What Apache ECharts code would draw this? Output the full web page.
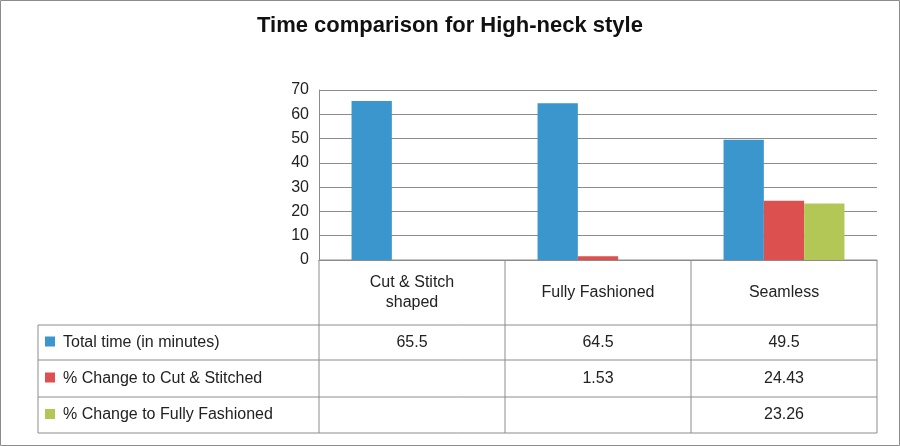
<!DOCTYPE html>
<html><head><meta charset="utf-8">
<script src="https://cdn.jsdelivr.net/npm/echarts@6/dist/echarts.min.js"></script>
<style>html,body{margin:0;padding:0;background:#fff}#c{width:900px;height:446px}</style>
</head><body><div id="c"></div>
<script>
const title = 'Time comparison for High-neck style';
const categories = ['Cut & Stitch\nshaped', 'Fully Fashioned', 'Seamless'];
const seriesNames = ['Total time (in minutes)', '% Change to Cut & Stitched', '% Change to Fully Fashioned'];
const totalTime = [65.5, 64.5, 49.5];
const changeCut = [null, 1.53, 24.43];
const changeFully = [null, null, 23.26];
const colors = ['#3a96cd', '#dc5150', '#b3c757'];
const allSeries = [totalTime, changeCut, changeFully];

const chart = echarts.init(document.getElementById('c'));
const L = 319, R = 877, X0 = 38, colW = (R - L) / 3;
const rowY = [260, 325, 360, 397, 433];
const line = '#8c8c8c';
const g = [];
g.push({type:'rect', shape:{x:0.5,y:0.5,width:899,height:445}, style:{fill:'none',stroke:line,lineWidth:1}});
// horizontal lines
g.push({type:'line', shape:{x1:L,y1:rowY[0],x2:R,y2:rowY[0]}, style:{stroke:line}});
for (let i = 1; i < rowY.length; i++) g.push({type:'line', shape:{x1:X0,y1:rowY[i],x2:R,y2:rowY[i]}, style:{stroke:line}});
g.push({type:'line', shape:{x1:X0,y1:rowY[1],x2:X0,y2:rowY[4]}, style:{stroke:line}});
for (let i = 0; i <= 3; i++) g.push({type:'line', shape:{x1:L+i*colW,y1:rowY[0],x2:L+i*colW,y2:rowY[4]}, style:{stroke:line}});
// header texts
categories.forEach((c, i) => {
  g.push({type:'text', style:{text:c, x:L+(i+0.5)*colW, y:(rowY[0]+rowY[1])/2, align:'center', verticalAlign:'middle', font:'16px Arial, "Liberation Sans"', fill:'#222', lineHeight:20}});
});
// rows
seriesNames.forEach((n, r) => {
  const cy = (rowY[r+1] + rowY[r+2]) / 2;
  g.push({type:'rect', shape:{x:45,y:cy-6,width:10,height:10}, style:{fill:colors[r]}});
  g.push({type:'text', style:{text:n, x:63, y:cy, verticalAlign:'middle', font:'16px Arial, "Liberation Sans"', fill:'#222'}});
  allSeries[r].forEach((v, i) => {
    if (v == null) return;
    g.push({type:'text', style:{text:String(v), x:L+(i+0.5)*colW, y:cy, align:'center', verticalAlign:'middle', font:'16px Arial, "Liberation Sans"', fill:'#222'}});
  });
});

chart.setOption({
  animation:false,
  title:{text:title, left:'center', top:10, textStyle:{fontSize:22, fontWeight:'bold', color:'#111', fontFamily:'Arial, "Liberation Sans"'}},
  grid:{left:L, right:900-R, top:90, bottom:446-260},
  xAxis:{type:'category', data:categories, axisLabel:{show:false}, axisTick:{show:false}, axisLine:{lineStyle:{color:line}}},
  yAxis:{type:'value', min:0, max:70, interval:10,
    axisLine:{show:true, lineStyle:{color:line}},
    axisLabel:{fontSize:16, color:'#222', fontFamily:'Arial, "Liberation Sans"', margin:10},
    splitLine:{lineStyle:{color:line}}},
  series: allSeries.map((d, i) => ({type:'bar', name:seriesNames[i], data:d, barGap:'0%', barCategoryGap:'35%', itemStyle:{color:colors[i]}})),
  graphic: g
});
</script></body></html>
